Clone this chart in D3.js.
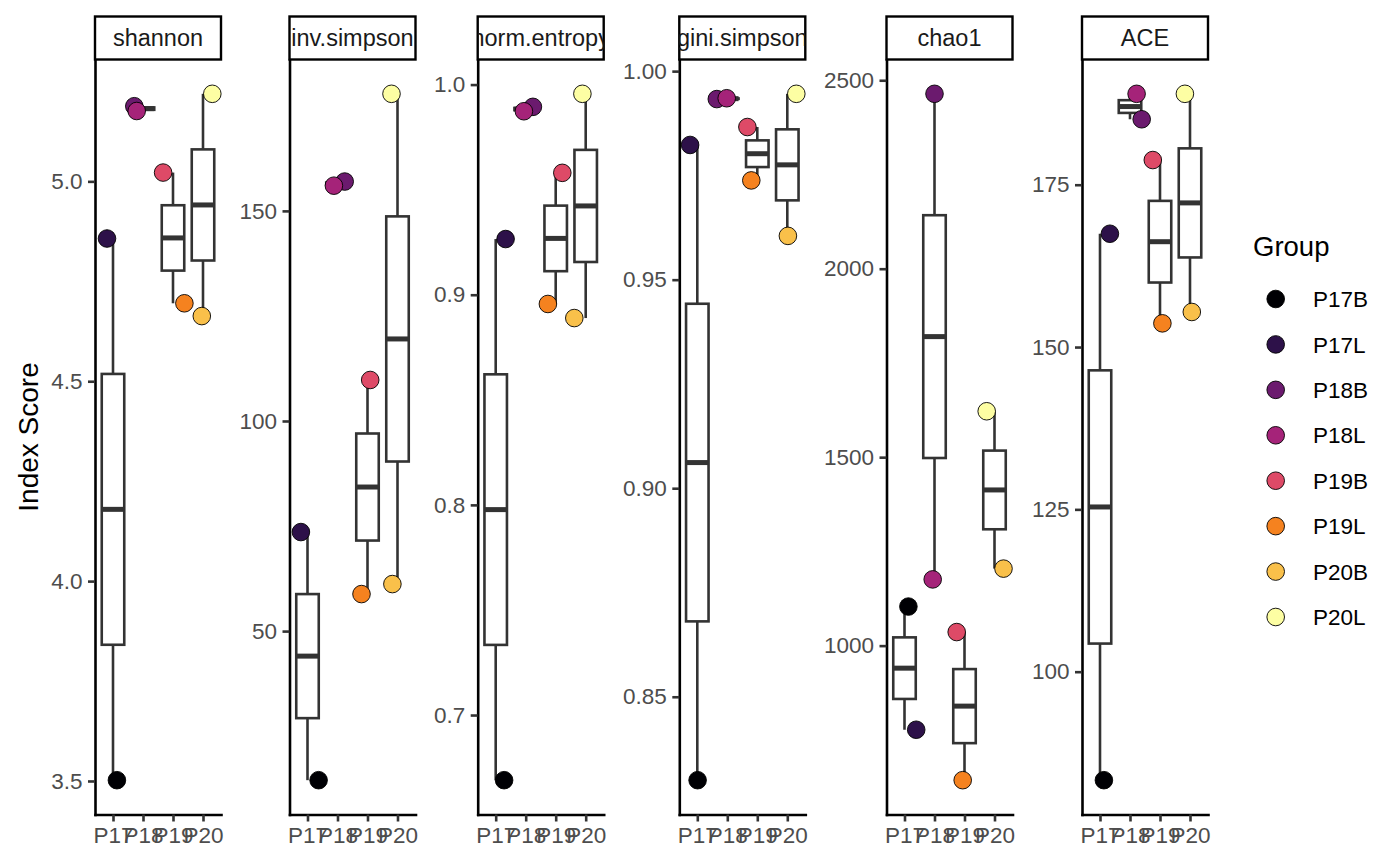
<!DOCTYPE html>
<html>
<head>
<meta charset="utf-8">
<script src="https://cdn.jsdelivr.net/npm/d3@7"></script>
<style>
    body { margin: 0; background: #fff; }
    text { font-family: "Liberation Sans", Arial, Helvetica, sans-serif; }
</style>
</head>
<body>
<svg id="chart"></svg>
<script>
// samples, in legend order
const samples = ['P17B', 'P17L', 'P18B', 'P18L', 'P19B', 'P19L', 'P20B', 'P20L']
const patients = ['P17', 'P17', 'P18', 'P18', 'P19', 'P19', 'P20', 'P20']
const categories = ['P17', 'P18', 'P19', 'P20']
const sampleColors = ['#000004', '#2d1149', '#6b1a6e', '#a52379', '#de4a67', '#f5821f', '#f9c04a', '#fdfea3']

const metrics = ['shannon', 'inv.simpson', 'norm.entropy', 'gini.simpson', 'chao1', 'ACE']

// index scores per sample (same order as samples)
const shannonValues = [3.502, 4.857, 5.188, 5.176, 5.022, 4.695, 4.663, 5.219]
const invSimpsonValues = [14.52, 73.57, 156.98, 156.0, 109.76, 58.81, 61.19, 177.86]
const normEntropyValues = [0.669, 0.9265, 0.9894, 0.9873, 0.958, 0.8956, 0.8889, 0.9956]
const giniSimpsonValues = [0.830, 0.9823, 0.9933, 0.9935, 0.9866, 0.9738, 0.9605, 0.99456]
const chao1Values = [1103.6, 776.8, 2464, 1175.7, 1036, 643, 1204.3, 1621.8]
const aceValues = [83.29, 167.45, 185.08, 189.0, 178.8, 153.65, 155.4, 189.0]

// horizontal jitter of each point, in category units
const shannonJitter = [0.13, -0.2, -0.29, -0.21, -0.33, 0.38, -0.04, 0.31]
const invSimpsonJitter = [0.37, -0.22, 0.24, -0.12, 0.09, -0.2, -0.17, -0.2]
const normEntropyJitter = [0.28, 0.33, 0.24, -0.06, 0.22, -0.26, -0.38, -0.11]
const giniSimpsonJitter = [0.01, -0.24, -0.35, -0.02, -0.33, -0.2, 0.02, 0.3]
const chao1Jitter = [0.13, 0.39, 0.0, -0.06, -0.26, -0.06, 0.3, -0.26]
const aceJitter = [0.13, 0.33, 0.39, 0.22, -0.24, 0.08, 0.06, -0.17]

// y tick labels per panel
const shannonTicks = ['3.5', '4.0', '4.5', '5.0']
const invSimpsonTicks = ['50', '100', '150']
const normEntropyTicks = ['0.7', '0.8', '0.9', '1.0']
const giniSimpsonTicks = ['0.85', '0.90', '0.95', '1.00']
const chao1Ticks = ['1000', '1500', '2000', '2500']
const aceTicks = ['100', '125', '150', '175']

const valueLists = [shannonValues, invSimpsonValues, normEntropyValues, giniSimpsonValues, chao1Values, aceValues]
const jitterLists = [shannonJitter, invSimpsonJitter, normEntropyJitter, giniSimpsonJitter, chao1Jitter, aceJitter]
const tickLists = [shannonTicks, invSimpsonTicks, normEntropyTicks, giniSimpsonTicks, chao1Ticks, aceTicks]

const metricTable = metrics.map((m, i) => ({
    name: m,
    points: samples.map((s, j) => ({
        sample: s,
        patient: patients[j],
        color: sampleColors[j],
        value: valueLists[i][j],
        jitter: jitterLists[i][j]
    })),
    ticks: tickLists[i]
}))

// left edge of each panel (axis widths differ per panel)
const panelLefts = [95, 289.5, 477.7, 679.3, 886.5, 1082]

const svg = d3.select('#chart')
    .attr('width', 1400)
    .attr('height', 865)

class FacetBoxPlot {
    constructor(_metric, _config) {
        this.metric = _metric
        this.config = {
            parentElement: _config.parentElement,
            index: _config.index,
            left: _config.left,
            panelWidth: 126,
            top: 59.5,
            bottom: 814.5,
            stripTop: 16.5,
            boxWidth: 0.75,
            radius: 8.8,
            lineWidth: 2.6
        }
        this.initVis()
    }

    /**
     * Scales, axes and strip
     */
    initVis() {
        let vis = this
        const cfg = vis.config

        vis.panel = d3.select(cfg.parentElement)
            .append('g')
            .attr('class', 'panel')

        vis.xScale = d3.scalePoint()
            .domain(categories)
            .range([cfg.left, cfg.left + cfg.panelWidth])
            .padding(0.6)

        // ggplot style 5% expansion of the data range
        const ext = d3.extent(vis.metric.points, d => d.value)
        const pad = (ext[1] - ext[0]) * 0.05
        vis.yScale = d3.scaleLinear()
            .domain([ext[0] - pad, ext[1] + pad])
            .range([cfg.bottom, cfg.top])

        vis.renderAxes()
        vis.renderStrip()
        vis.renderVis()
    }

    renderAxes() {
        let vis = this
        const cfg = vis.config
        const ticks = vis.metric.ticks

        vis.yAxis = d3.axisLeft(vis.yScale)
            .tickValues(ticks.map(Number))
            .tickFormat((d, i) => ticks[i])
            .tickSize(7)
            .tickSizeOuter(0)
            .tickPadding(5.5)

        vis.xAxis = d3.axisBottom(vis.xScale)
            .tickSize(7)
            .tickSizeOuter(0)
            .tickPadding(5.5)

        vis.yAxisG = vis.panel.append('g')
            .attr('transform', `translate(${cfg.left}, 0)`)
            .call(vis.yAxis)

        vis.xAxisG = vis.panel.append('g')
            .attr('transform', `translate(0, ${cfg.bottom})`)
            .call(vis.xAxis)

        for (const g of [vis.yAxisG, vis.xAxisG]) {
            g.attr('font-family', null).attr('font-size', null)
            g.select('.domain')
                .attr('stroke', '#000')
                .attr('stroke-width', cfg.lineWidth)
                .attr('stroke-linecap', 'square')
            g.selectAll('.tick line')
                .attr('stroke', '#333')
                .attr('stroke-width', cfg.lineWidth)
            g.selectAll('.tick text')
                .attr('fill', '#4d4d4d')
                .style('font-size', '22.5px')
        }
    }

    renderStrip() {
        let vis = this
        const cfg = vis.config
        const stripH = cfg.top - cfg.stripTop

        vis.panel.append('clipPath')
            .attr('id', 'strip-clip-' + cfg.index)
            .append('rect')
            .attr('x', cfg.left)
            .attr('y', cfg.stripTop)
            .attr('width', cfg.panelWidth)
            .attr('height', stripH)

        vis.panel.append('rect')
            .attr('x', cfg.left)
            .attr('y', cfg.stripTop)
            .attr('width', cfg.panelWidth)
            .attr('height', stripH)
            .attr('fill', '#fff')
            .attr('stroke', '#000')
            .attr('stroke-width', 2.4)

        vis.panel.append('text')
            .attr('clip-path', `url(#strip-clip-${cfg.index})`)
            .attr('x', cfg.left + cfg.panelWidth / 2)
            .attr('y', cfg.stripTop + stripH / 2)
            .attr('dy', '0.36em')
            .attr('text-anchor', 'middle')
            .attr('fill', '#1a1a1a')
            .style('font-size', '23.5px')
            .text(vis.metric.name)
    }

    /**
     * Box stats per patient, then boxes, whiskers and points
     */
    renderVis() {
        let vis = this
        const cfg = vis.config
        const step = vis.xScale.step()
        const bw = cfg.boxWidth * step

        vis.stats = categories.map(c => {
            const vals = vis.metric.points.filter(d => d.patient === c).map(d => d.value).sort(d3.ascending)
            const q1 = d3.quantile(vals, 0.25)
            const med = d3.quantile(vals, 0.5)
            const q3 = d3.quantile(vals, 0.75)
            const iqr = q3 - q1
            const lo = d3.min(vals.filter(v => v >= q1 - 1.5 * iqr))
            const hi = d3.max(vals.filter(v => v <= q3 + 1.5 * iqr))
            return {cat: c, q1, med, q3, lo, hi}
        })

        const boxes = vis.panel.append('g')
            .selectAll('.box')
            .data(vis.stats)
            .join('g')
            .attr('class', 'box')

        boxes.append('line')
            .attr('x1', d => vis.xScale(d.cat))
            .attr('x2', d => vis.xScale(d.cat))
            .attr('y1', d => vis.yScale(d.q3))
            .attr('y2', d => vis.yScale(d.hi))
        boxes.append('line')
            .attr('x1', d => vis.xScale(d.cat))
            .attr('x2', d => vis.xScale(d.cat))
            .attr('y1', d => vis.yScale(d.q1))
            .attr('y2', d => vis.yScale(d.lo))
        boxes.selectAll('line')
            .attr('stroke', '#333')
            .attr('stroke-width', 2.6)

        boxes.append('rect')
            .attr('x', d => vis.xScale(d.cat) - bw / 2)
            .attr('y', d => vis.yScale(d.q3))
            .attr('width', bw)
            .attr('height', d => vis.yScale(d.q1) - vis.yScale(d.q3))
            .attr('fill', '#fff')
            .attr('stroke', '#333')
            .attr('stroke-width', 2.6)

        boxes.append('line')
            .attr('x1', d => vis.xScale(d.cat) - bw / 2)
            .attr('x2', d => vis.xScale(d.cat) + bw / 2)
            .attr('y1', d => vis.yScale(d.med))
            .attr('y2', d => vis.yScale(d.med))
            .attr('stroke', '#333')
            .attr('stroke-width', 5)

        vis.panel.append('g')
            .selectAll('.point')
            .data(vis.metric.points)
            .join('circle')
            .attr('class', 'point')
            .attr('cx', d => vis.xScale(d.patient) + d.jitter * step)
            .attr('cy', d => vis.yScale(d.value))
            .attr('r', cfg.radius)
            .attr('fill', d => d.color)
            .attr('stroke', '#000')
            .attr('stroke-width', 0.9)
    }
}

metricTable.forEach((m, i) => {
    new FacetBoxPlot(m, {parentElement: '#chart', index: i, left: panelLefts[i]})
})

// y axis title
svg.append('text')
    .attr('transform', 'translate(38, 437) rotate(-90)')
    .attr('text-anchor', 'middle')
    .attr('fill', '#000')
    .style('font-size', '28px')
    .text('Index Score')

// legend
const legend = svg.append('g').attr('transform', 'translate(1253, 0)')
legend.append('text')
    .attr('x', 0)
    .attr('y', 256)
    .attr('fill', '#000')
    .style('font-size', '27.5px')
    .text('Group')

const legendY = d3.scalePoint().domain(samples).range([299, 617])
const items = legend.selectAll('.legend-item')
    .data(samples.map((s, i) => ({sample: s, color: sampleColors[i]})))
    .join('g')
    .attr('class', 'legend-item')
    .attr('transform', d => `translate(0, ${legendY(d.sample)})`)
items.append('circle')
    .attr('cx', 22.7)
    .attr('r', 8.8)
    .attr('fill', d => d.color)
    .attr('stroke', '#000')
    .attr('stroke-width', 0.9)
items.append('text')
    .attr('x', 60)
    .attr('dy', '0.36em')
    .attr('fill', '#000')
    .style('font-size', '22.5px')
    .text(d => d.sample)
</script>
</body>
</html>
